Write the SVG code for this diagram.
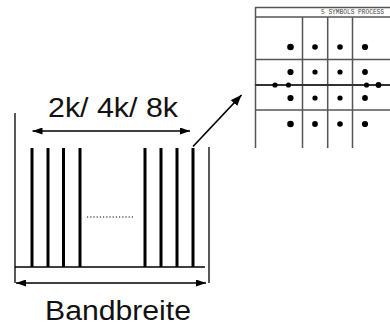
<svg xmlns="http://www.w3.org/2000/svg" width="390" height="325" viewBox="0 0 390 325">
  <style>
    .thin { stroke: #000; stroke-width: 1.3; fill: none; }
    .bar { stroke: #000; stroke-width: 3; }
    .dim { stroke: #000; stroke-width: 1.7; fill: none; }
    .lbl { font-family: "Liberation Sans", Arial, sans-serif; fill: #111; }
    .grid { stroke: #555; stroke-width: 1.5; fill: none; }
    .axis { stroke: #333; stroke-width: 2; fill: none; }
    .pt { fill: #000; }
  </style>
  <defs>
    <marker id="head" viewBox="0 0 10 7" refX="10" refY="3.5" markerWidth="10" markerHeight="7" orient="auto-start-reverse" markerUnits="userSpaceOnUse">
      <path d="M0,0 L10,3.5 L0,7 z" fill="#000"/>
    </marker>
    <marker id="head2" viewBox="0 0 10 8" refX="10" refY="4" markerWidth="11" markerHeight="9" orient="auto" markerUnits="userSpaceOnUse">
      <path d="M0,0 L10,4 L0,8 z" fill="#000"/>
    </marker>
    <filter id="soft" x="-5%" y="-5%" width="110%" height="110%">
      <feGaussianBlur stdDeviation="0.5"/>
    </filter>
  </defs>

  <!-- subcarrier spectrum -->
  <g id="spectrum">
    <line class="thin" x1="15" y1="113" x2="15" y2="283"/>
    <line class="thin" x1="209" y1="147" x2="209" y2="283"/>
    <line class="thin" x1="15" y1="267" x2="205" y2="267"/>
    <g class="bar">
      <line x1="32" y1="148" x2="32" y2="267"/>
      <line x1="48" y1="148" x2="48" y2="267"/>
      <line x1="63.5" y1="148" x2="63.5" y2="267"/>
      <line x1="80" y1="148" x2="80" y2="267"/>
      <line x1="145" y1="148" x2="145" y2="267"/>
      <line x1="161" y1="148" x2="161" y2="267"/>
      <line x1="177" y1="148" x2="177" y2="267"/>
      <line x1="193" y1="148" x2="193" y2="267"/>
    </g>
    <line x1="87" y1="217" x2="135" y2="217" stroke="#000" stroke-width="1" stroke-dasharray="1.2 2"/>
  </g>

  <!-- carrier count label -->
  <g id="carriers">
    <text class="lbl" x="48" y="116.5" font-size="28" textLength="130" lengthAdjust="spacingAndGlyphs">2k/ 4k/ 8k</text>
  </g>

  <!-- bandwidth label -->
  <g id="bandwidth">
    <text class="lbl" x="45" y="320" font-size="27" textLength="146" lengthAdjust="spacingAndGlyphs">Bandbreite</text>
  </g>

  <!-- constellation display -->
  <g id="constellation">
    <g filter="url(#soft)">
      <rect x="255" y="7" width="140" height="143" fill="#fff" stroke="none"/>
      <path class="grid" d="M255,7.5 H392 M255,17 H392 M255.5,7 V148 M302.5,17 V148 M327.7,17 V148 M352.5,17 V148 M255,59.5 H392 M255,110 H392"/>
      <line class="axis" x1="255" y1="85" x2="392" y2="85"/>
      <g class="pt">
        <circle cx="290.5" cy="47" r="3.3"/>
        <circle cx="315" cy="47" r="2.8"/>
        <circle cx="340" cy="47" r="2.8"/>
        <circle cx="365" cy="47" r="3.1"/>
        <circle cx="290.5" cy="72" r="3.1"/>
        <circle cx="315" cy="72" r="2.6"/>
        <circle cx="340" cy="72" r="2.6"/>
        <circle cx="365" cy="72" r="2.9"/>
        <circle cx="275" cy="85" r="2.6"/>
        <circle cx="288.5" cy="85" r="2.6"/>
        <circle cx="366.5" cy="85" r="2.6"/>
        <circle cx="378.5" cy="85" r="2.9"/>
        <circle cx="290.5" cy="98" r="3.1"/>
        <circle cx="315" cy="98" r="2.6"/>
        <circle cx="340" cy="98" r="2.6"/>
        <circle cx="365" cy="98" r="2.9"/>
        <circle cx="290.5" cy="124" r="3.3"/>
        <circle cx="315" cy="124" r="2.9"/>
        <circle cx="340" cy="124" r="2.8"/>
        <circle cx="365" cy="124" r="3.1"/>
      </g>
    </g>
    <text x="321" y="14.3" font-family="'Liberation Mono', monospace" font-size="6.5" fill="#444" textLength="63" lengthAdjust="spacingAndGlyphs">5 SYMBOLS PROCESS</text>
  </g>

  <!-- connectors -->
  <g id="connectors">
    <line class="dim" x1="32.5" y1="131" x2="190" y2="131" marker-start="url(#head)" marker-end="url(#head)"/>
    <line class="dim" x1="16" y1="283" x2="206" y2="283" marker-start="url(#head)" marker-end="url(#head)"/>
    <line class="dim" x1="193" y1="146.5" x2="241.5" y2="95" marker-end="url(#head2)"/>
  </g>
</svg>
